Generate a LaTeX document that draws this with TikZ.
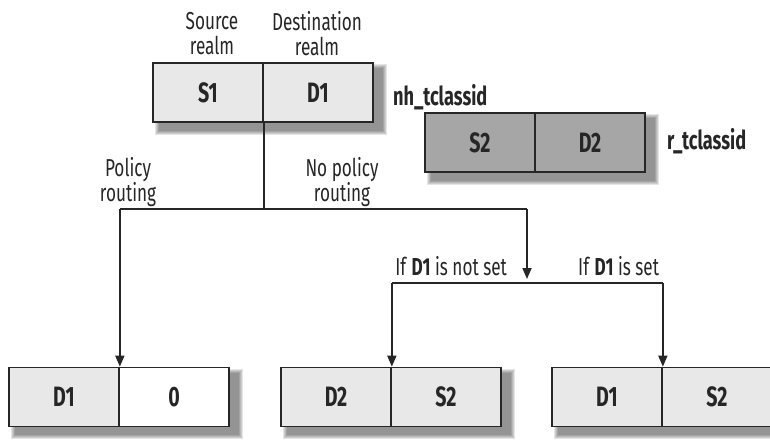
\documentclass[tikz,border=0pt]{standalone}
\usepackage{fontspec}
\setmainfont{Fira Sans}[FakeStretch=0.7]
\usetikzlibrary{arrows.meta,backgrounds}
\definecolor{ink}{HTML}{262626}
\definecolor{cellgray}{HTML}{E8E8E8}
\definecolor{darkcell}{HTML}{A6A6A6}
\tikzset{
  cell/.style={draw=ink, line width=1.7pt, minimum width=110pt, minimum height=59pt,
    inner sep=0pt, fill=cellgray, text=ink, font=\fontsize{28}{30}\selectfont\bfseries},
  darkbox/.style={cell, fill=darkcell},
  whitebox/.style={cell, fill=white},
  lbl/.style={font=\fontsize{24.5}{25}\selectfont, text=ink, align=center, inner sep=0pt},
  tag/.style={font=\fontsize{26}{27}\selectfont\bfseries, text=ink, inner sep=0pt, anchor=west},
  conn/.style={draw=ink, line width=1.7pt},
  arr/.style={conn, -{Triangle[length=11pt,width=9pt]}},
}
\newcommand\castshadow[2]{%
  \foreach \r in {5,4,3,2,1}{%
    \fill[black,opacity=0.1] ([shift={({8-\r},{7-\r})}]#1.north west)
      rectangle ([shift={({8+\r},{7+\r})}]#2.south east);}}
\begin{document}
\begin{tikzpicture}[x=1pt,y=-1pt]
\useasboundingbox (0,0) rectangle (770,440);

% top box nh_tclassid
\node[cell] (nhS) at (208,92.5) {S1};
\node[cell] (nhD) at (318,92.5) {D1};
\node[tag] (nhT) at (393,97) {nh\_tclassid};
\node[lbl] (srcL) at (212,34) {Source\\realm};
\node[lbl] (dstL) at (317,34) {Destination\\realm};

% r_tclassid box
\node[darkbox] (rS) at (480,142.5) {S2};
\node[darkbox] (rD) at (590,142.5) {D2};
\node[tag] (rT) at (667,141) {r\_tclassid};

% bottom boxes
\node[cell] (b1l) at (64,397) {D1};
\node[whitebox] (b1r) at (174,397) {0};
\node[cell] (b2l) at (336,397) {D2};
\node[cell] (b2r) at (446,397) {S2};
\node[cell] (b3l) at (607,397) {D1};
\node[cell] (b3r) at (717,397) {S2};

\begin{scope}[on background layer]
  \fill[white] (0,0) rectangle (770,440);
  \castshadow{nhS}{nhD}
  \castshadow{rS}{rD}
  \castshadow{b1l}{b1r}
  \castshadow{b2l}{b2r}
  \castshadow{b3l}{b3r}
\end{scope}

% labels
\node[lbl] (polL) at (128,182) {Policy\\routing};
\node[lbl] (npolL) at (342,182) {No policy\\routing};
\node[lbl, anchor=east] (notsetL) at (507,266) {If \textbf{D1} is not set};
\node[lbl, anchor=west] (setL) at (578,266) {If \textbf{D1} is set};

% connectors
\coordinate (row1) at (0,209);
\coordinate (row2) at (0,283);
\coordinate (jm) at (nhS.south east |- row1);
\coordinate (jl) at (b1l.north east |- row1);
\coordinate (jr) at (527,209);
\coordinate (ka) at (527,279);
\coordinate (kl) at (b2l.north east |- row2);
\coordinate (kr) at (b3l.north east |- row2);

\draw[conn] (nhS.south east) -- (jm);
\draw[conn] (jl) -- (jr);
\draw[arr] (jl) -- (b1l.north east);
\draw[arr] (jr) -- (ka);
\draw[conn] (kl) -- (kr);
\draw[arr] (kl) -- (b2l.north east);
\draw[arr] (kr) -- (b3l.north east);
\end{tikzpicture}
\end{document}
